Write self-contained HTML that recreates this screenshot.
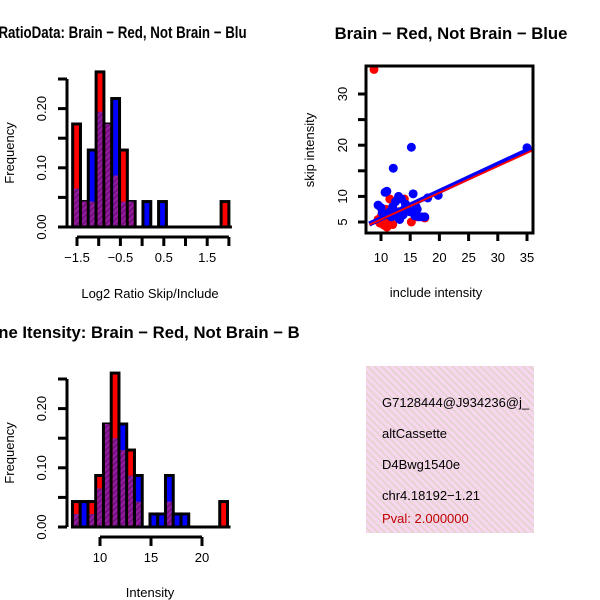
<!DOCTYPE html>
<html><head><meta charset="utf-8"><style>
body{margin:0;background:#fff}
svg{display:block;font-family:"Liberation Sans",sans-serif}
</style></head><body>
<svg id="c" width="600" height="600" xmlns="http://www.w3.org/2000/svg">
<defs>
<pattern id="hp" width="4" height="4" patternUnits="userSpaceOnUse" patternTransform="rotate(45)">
<rect width="4" height="4" fill="#9a1aa8"/><rect width="2" height="4" fill="#6e1478"/></pattern>
<pattern id="pk" width="5" height="5" patternUnits="userSpaceOnUse" patternTransform="rotate(-45)">
<rect width="5" height="5" fill="#f7d6f0"/><rect width="1.5" height="5" fill="#e2d2c8"/></pattern>
<clipPath id="cl1"><rect x="0" y="0" width="247" height="60"/></clipPath>
<clipPath id="cl2"><rect x="0" y="300" width="300" height="60"/></clipPath>
</defs>
<g id="g1"></g><g id="g2"></g><g id="g3"></g>
<g>
<rect x="366" y="366" width="168" height="167" fill="url(#pk)"/>
<text x="382" y="407" font-size="13">G7128444@J934236@j_</text>
<text x="382" y="438" font-size="13">altCassette</text>
<text x="382" y="469" font-size="13">D4Bwg1540e</text>
<text x="382" y="500" font-size="13">chr4.18192−1.21</text>
<text x="382" y="523" font-size="13" fill="#c00000">Pval: 2.000000</text>
</g>
<rect x="534" y="360" width="66" height="180" fill="#fff"/>
</svg>
<script>
// Histogram 1 data (Log2 ratio)
const h1Start=-1.6, h1Width=0.18;
const h1Red=[0.174,0.043,0.043,0.262,0.174,0.087,0.13,0.043,0,0,0,0,0,0,0,0,0,0,0,0.043];
const h1Blue=[0.065,0.043,0.13,0.195,0.174,0.217,0.043,0.043,0,0.043,0,0.043,0,0,0,0,0,0,0,0];
const h1XTicks=[-1.5,-1,-0.5,0,0.5,1,1.5,2];
const h1XLabels=["-1.5","","-0.5","","0.5","","1.5",""];
// Histogram 2 data (intensity)
const h2Start=7.3, h2Width=0.76;
const h2Red=[0.043,0,0.043,0.087,0.174,0.26,0.13,0.13,0.043,0,0,0,0.043,0,0,0,0,0,0,0.043];
const h2Blue=[0.022,0.043,0.022,0.065,0.174,0.15,0.174,0.087,0.087,0,0.022,0.022,0.087,0.022,0.022,0,0,0,0,0];
const h2XTicks=[10,15,20];
const yTicks=[0,0.05,0.1,0.15,0.2,0.25];
const yLabels=["0.00","","0.10","","0.20",""];
// Scatter data
const sRedX=[8.8,10.5,11,9.5,12,15.2,17.5,11.5,10,12.5,14,13,16,11.2,10.8,9.8];
const sRedY=[34.8,4.4,4,5.5,4.5,5,5.8,9.5,6,6.5,9.5,7,6,5,7.5,4.8];
const sBlueX=[15.2,12.1,35,15.5,11,10.7,19.8,13,18,9.5,10,11.5,12,12.5,13.5,14,14.5,15,16,16.5,17,11,12.8,13.2,10.2,15.8,17.5,14.2,12.2,11.8,16.2,13.8];
const sBlueY=[19.6,15.5,19.5,10.5,11,10.8,10.2,10,9.7,8.3,7.8,7,8,9,9.5,7.5,8,7,8,6,6,6.5,6,5.5,6.8,6.2,6,8.5,7.2,6,7.5,6.4];
const redFit=[0.3,0.52];   // intercept, slope
const blueFit=[0.34,0.532];
const sXTicks=[10,15,20,25,30,35], sYTicks=[5,10,15,20,25,30];
const sYLabels=["5","10","","20","","30"];

const NS="http://www.w3.org/2000/svg";
function mk(p,t,a){const e=document.createElementNS(NS,t);for(const k in a)e.setAttribute(k,a[k]);p.appendChild(e);return e;}

function hist(g,start,w,red,blue,xs,xl,x0px,xpu,ybase,title,xlab,xax,ttlStart,xlabY,clip,tlen){
  const X=v=>x0px+(v-xs[0])*xpu, Y=v=>ybase-v*592;
  for(let i=0;i<red.length;i++){
    const r=red[i],b=blue[i],mx=Math.max(r,b),mn=Math.min(r,b);
    if(mx<=0)continue;
    const xa=X(start+i*w),xb=X(start+(i+1)*w);
    const bar=mk(g,'rect',{x:xa,y:Y(mx),width:xb-xa,height:Y(0)-Y(mx),fill:r>=b?'#ff0000':'#0000ff',stroke:'#000','stroke-width':3});
    
    
    if(mn>0){const p=mk(g,'rect',{x:xa+1.5,y:Y(mn),width:xb-xa-3,height:Y(0)-Y(mn)-1.5,fill:'url(#hp)'});
      
      }
  }
  mk(g,'line',{x1:x0px-10,x2:X(start+red.length*w)+3,y1:Y(0),y2:Y(0),stroke:'#000','stroke-width':3});
  mk(g,'line',{x1:67,x2:67,y1:Y(0),y2:Y(0.25),stroke:'#000','stroke-width':3});
  yTicks.forEach((t,i)=>{mk(g,'line',{x1:58,x2:67,y1:Y(t),y2:Y(t),stroke:'#000','stroke-width':3});
    if(yLabels[i]){const tx=mk(g,'text',{x:46,y:Y(t),'font-size':13,'text-anchor':'middle',transform:`rotate(-90 46 ${Y(t)})`});tx.textContent=yLabels[i];}});
  const yc=(Y(0)+Y(0.25))/2;
  const yl=mk(g,'text',{x:14,y:yc,'font-size':13,'text-anchor':'middle',transform:`rotate(-90 14 ${yc})`});yl.textContent='Frequency';
  
  
  mk(g,'line',{x1:X(xs[0]),x2:X(xs[xs.length-1]),y1:xax,y2:xax,stroke:'#000','stroke-width':3});
  xs.forEach((t,i)=>{mk(g,'line',{x1:X(t),x2:X(t),y1:xax,y2:xax+9,stroke:'#000','stroke-width':3});
    const tx=mk(g,'text',{x:X(t),y:xax+25,'font-size':13,'text-anchor':'middle'});tx.textContent=xl[i].replace('-','−');});
  const xlt=mk(g,'text',{x:150,y:xlabY,'font-size':13,'text-anchor':'middle'});xlt.textContent=xlab;
  
  
  const attrs={x:ttlStart,y:Y(0.25)-41,'font-size':16.7,'font-weight':'bold','text-anchor':'start','clip-path':`url(#${clip})`};
  if(tlen){attrs.textLength=tlen;attrs.lengthAdjust='spacingAndGlyphs';}
  const tt=mk(g,'text',attrs);tt.textContent=title;
  
  
}
const g1=document.getElementById('g1');


hist(g1,h1Start,h1Width,h1Red,h1Blue,h1XTicks,h1XLabels,77,43.4,227,'Log2 RatioData: Brain − Red, Not Brain − Blue','Log2 Ratio Skip/Include',237,-37,298,'cl1',291);
const g2=document.getElementById('g2');


hist(g2,h2Start,h2Width,h2Red,h2Blue,h2XTicks,["10","15","20"],100,10.2,527,'Gene Itensity: Brain − Red, Not Brain − Blue','Intensity',537,-24,597,'cl2',0);

const g3=document.getElementById('g3');


const SX=v=>381+(v-10)*5.84, SY=v=>222-(v-5)*5.12;
sRedX.forEach((x,i)=>{const c=mk(g3,'circle',{cx:SX(x),cy:SY(sRedY[i]),r:4.5,fill:'#ff0000'});
  
  });
sBlueX.forEach((x,i)=>{const c=mk(g3,'circle',{cx:SX(x),cy:SY(sBlueY[i]),r:4.5,fill:'#0000ff'});
  
  });
const bl=mk(g3,'line',{x1:SX(8),y1:SY(blueFit[0]+blueFit[1]*8),x2:SX(35.8),y2:SY(blueFit[0]+blueFit[1]*35.8),stroke:'#0000ff','stroke-width':5});


const rl=mk(g3,'line',{x1:SX(8),y1:SY(redFit[0]+redFit[1]*8),x2:SX(35.8),y2:SY(redFit[0]+redFit[1]*35.8),stroke:'#ff0000','stroke-width':2});


mk(g3,'rect',{x:366,y:66,width:167,height:167,fill:'none',stroke:'#000','stroke-width':3});
sXTicks.forEach(t=>{mk(g3,'line',{x1:SX(t),x2:SX(t),y1:233,y2:241,stroke:'#000','stroke-width':3});
  const tx=mk(g3,'text',{x:SX(t),y:262,'font-size':13,'text-anchor':'middle'});tx.textContent=t;});
sYTicks.forEach((t,i)=>{mk(g3,'line',{x1:358,x2:366,y1:SY(t),y2:SY(t),stroke:'#000','stroke-width':3});
  if(sYLabels[i]){const tx=mk(g3,'text',{x:347,y:SY(t),'font-size':13,'text-anchor':'middle',transform:`rotate(-90 347 ${SY(t)})`});tx.textContent=sYLabels[i];}});
let t=mk(g3,'text',{x:436,y:297,'font-size':13,'text-anchor':'middle'});t.textContent='include intensity';
t=mk(g3,'text',{x:314,y:150,'font-size':13,'text-anchor':'middle',transform:'rotate(-90 314 150)'});t.textContent='skip intensity';
t=mk(g3,'text',{x:451,y:39,'font-size':16.7,'font-weight':'bold','text-anchor':'middle'});t.textContent='Brain − Red, Not Brain − Blue';
</script>
</body></html>
